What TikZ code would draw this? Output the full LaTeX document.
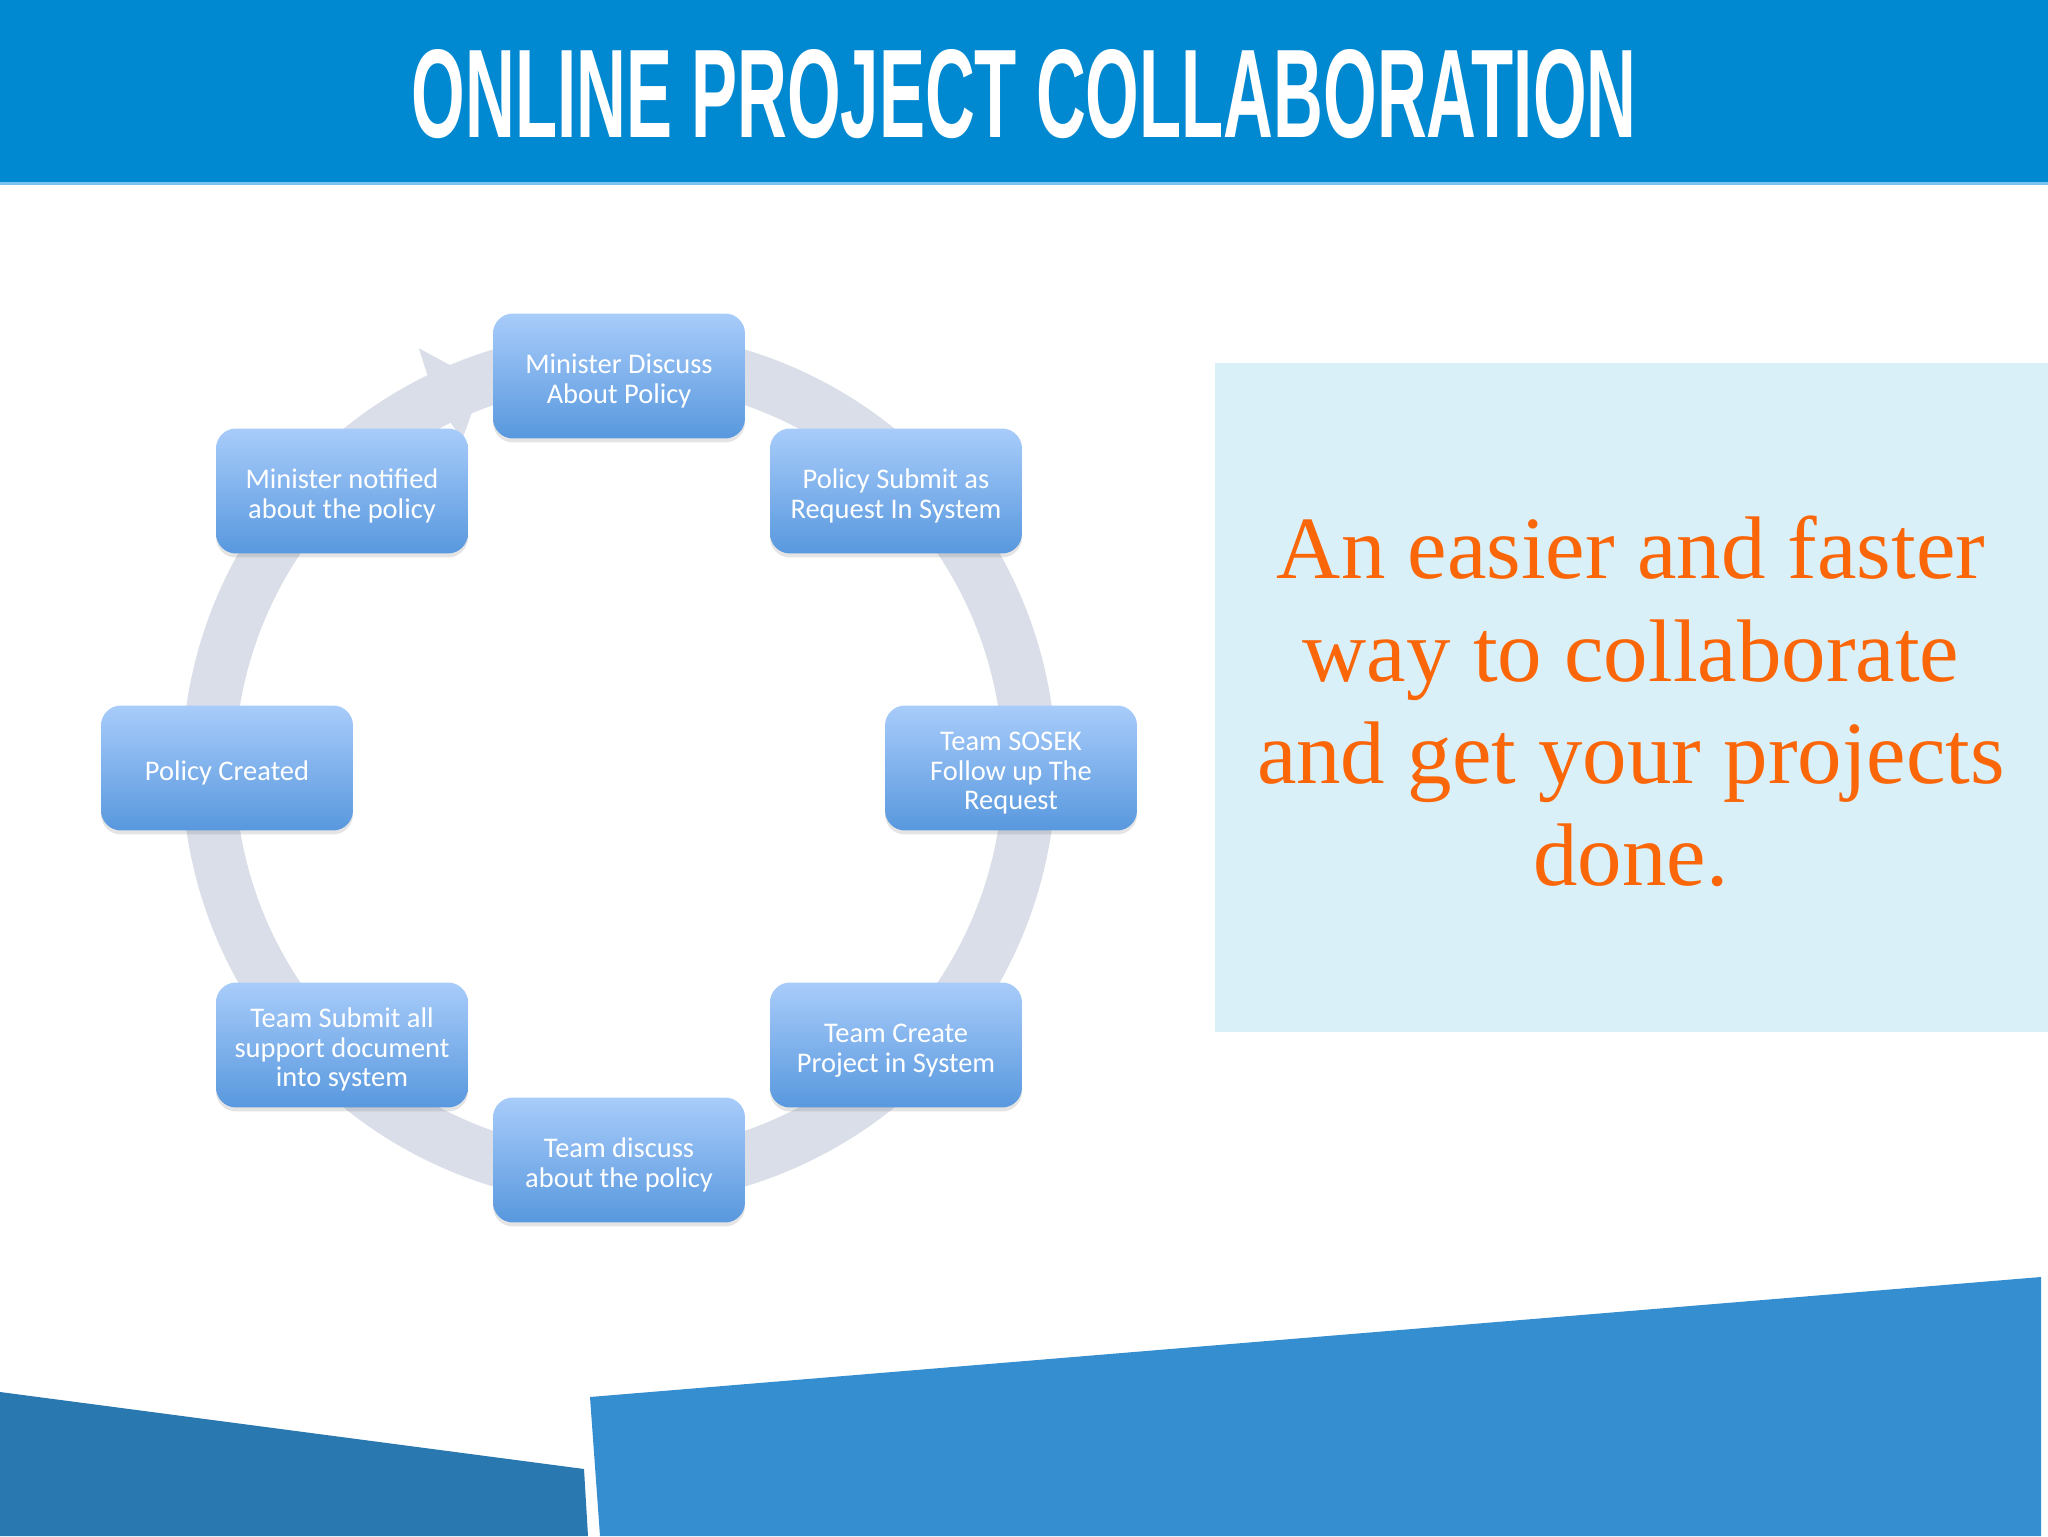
\documentclass[tikz,border=0pt]{standalone}
\usepackage{fontspec}
\usepackage{graphicx}
\setmainfont{Liberation Serif}
\newfontfamily\boxfont{Carlito}
\newfontfamily\titlefont{Liberation Sans}
\usetikzlibrary{shadows}
\definecolor{headblue}{RGB}{0,137,209}
\definecolor{headline}{RGB}{120,196,236}
\definecolor{ringgray}{RGB}{217,222,233}
\definecolor{boxtop}{RGB}{168,204,250}
\definecolor{boxbot}{RGB}{88,152,222}
\definecolor{panelblue}{RGB}{218,240,249}
\definecolor{orangetxt}{RGB}{250,102,8}
\definecolor{darkband}{RGB}{42,120,176}
\definecolor{lightband}{RGB}{52,142,207}
\newcommand{\lowtxt}[1]{\raisebox{-3.5pt}[\height][\depth]{\begin{tabular}{@{}c@{}}#1\end{tabular}}}
\tikzset{
  stepbox/.style={rectangle, rounded corners=0.4cm, minimum width=5.04cm,
    minimum height=2.5cm, inner sep=0pt, top color=boxtop, bottom color=boxbot,
    draw=none, text=white, align=center,
    font=\boxfont\fontsize{16.2}{17.0}\selectfont,
    drop shadow={shadow xshift=0cm, shadow yshift=-0.08cm, opacity=0.15, fill=black!70}},
  slogan/.style={anchor=base, text=orangetxt, inner sep=0pt,
    font=\fontsize{50.6}{58}\selectfont}
}
\begin{document}
\begin{tikzpicture}[x=0.02cm,y=0.02cm]
% page
\fill[white] (0,0) rectangle (2048,1536);
\useasboundingbox (0,0) rectangle (2048,1536);
% header
\fill[headblue] (0,1354) rectangle (2048,1536);
\fill[headline] (0,1351) rectangle (2048,1354);
\node[anchor=base, inner sep=0pt, text=white] (title) at (1024,1398)
  {\resizebox{697pt}{50.1pt}{\titlefont\bfseries ONLINE PROJECT COLLABORATION}};
% bottom bands
\fill[darkband] (0,144) -- (584,67) -- (588,0) -- (0,0) -- cycle;
\fill[lightband] (590,139) -- (2041,259) -- (2041,0) -- (600,0) -- cycle;
% right panel
\fill[panelblue] (1215,504) rectangle (2048,1173);
\node[slogan] (l1) at (1631,957) {An easier and faster};
\node[slogan] (l2) at (1631,854) {way to collaborate};
\node[slogan] (l3) at (1631,752) {and get your projects};
\node[slogan] (l4) at (1631,650) {done.};
% ring with arrow
\begin{scope}[shift={(619,768)}]
  \fill[ringgray] (116:437) arc[start angle=116, end angle=-260, radius=437]
    -- (-260:384) arc[start angle=-260, end angle=116, radius=384]
    -- (115.5:364) -- (109.5:409) -- (115.5:465) -- cycle;
\end{scope}
% steps
\node[stepbox] (n1) at (619,1160) {\lowtxt{Minister Discuss\\About Policy}};
\node[stepbox] (n2) at (896,1045) {\lowtxt{Policy Submit as\\Request In System}};
\node[stepbox] (n3) at (1011,768) {\lowtxt{Team SOSEK\\Follow up The\\Request}};
\node[stepbox] (n4) at (896,491) {\lowtxt{Team Create\\Project in System}};
\node[stepbox] (n5) at (619,376) {\lowtxt{Team discuss\\about the policy}};
\node[stepbox] (n6) at (342,491) {\lowtxt{Team Submit all\\support document\\into system}};
\node[stepbox] (n7) at (227,768) {\lowtxt{Policy Created}};
\node[stepbox] (n8) at (342,1045) {\lowtxt{Minister notified\\about the policy}};
\end{tikzpicture}
\end{document}
